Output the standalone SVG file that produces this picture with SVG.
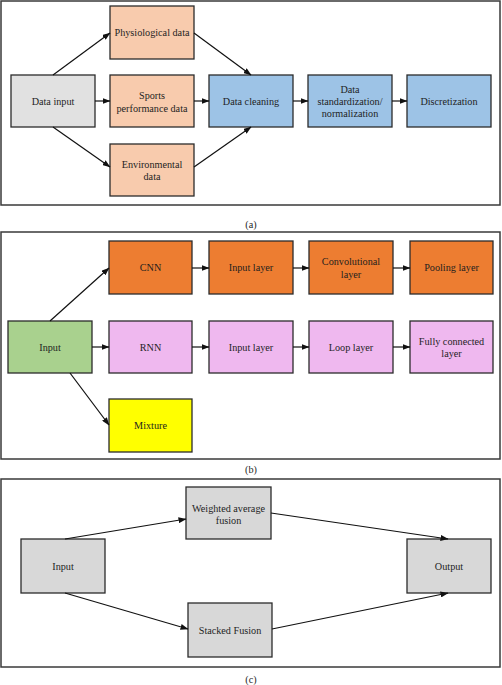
<svg xmlns="http://www.w3.org/2000/svg" width="502" height="685" viewBox="0 0 502 685" font-family="'Liberation Serif', 'Times New Roman', 'DejaVu Serif', serif">
<defs>
<marker id="ah" markerUnits="userSpaceOnUse" markerWidth="8" markerHeight="6" refX="7.5" refY="3" orient="auto">
<path d="M0,0 L8,3 L0,6 z" fill="#111"/>
</marker>
</defs>
<style>
.panel{fill:#fff;stroke:#3a3a3a;stroke-width:1.5}
.box{stroke:#2b2b2b;stroke-width:1.3}
text{font-family:'Liberation Serif','Times New Roman','DejaVu Serif',serif;font-size:10.2px;fill:#1e1e1e;text-anchor:middle;dominant-baseline:central}
.con line{stroke:#111;stroke-width:1.2;marker-end:url(#ah)}
.gray{fill:#e1e1e1}.peach{fill:#f8cbad}.blue{fill:#9dc3e6}
.orange{fill:#ed7d31}.pink{fill:#efb8ef}.green{fill:#a9d18e}.yellow{fill:#ffff00}.grey2{fill:#d8d8d8}
</style>
<rect width="502" height="685" fill="#fff"/>
<!-- Panel a -->
<rect class="panel" x="1" y="1" width="499" height="204"/>
<g id="a-input"><rect class="box gray" x="11" y="75" width="84" height="52"/><text x="53" y="101">Data input</text></g>
<g id="a-phys"><rect class="box peach" x="110" y="6" width="84" height="53"/><text x="152" y="32.5">Physiological data</text></g>
<g id="a-sports"><rect class="box peach" x="110" y="75" width="84" height="52"/><text x="152" y="95">Sports</text><text x="152" y="108">performance data</text></g>
<g id="a-env"><rect class="box peach" x="110" y="144" width="84" height="52"/><text x="152" y="164">Environmental</text><text x="152" y="176">data</text></g>
<g id="a-clean"><rect class="box blue" x="209" y="75" width="84" height="52"/><text x="251" y="101">Data cleaning</text></g>
<g id="a-std"><rect class="box blue" x="308" y="75" width="84" height="52"/><text x="350" y="89">Data</text><text x="350" y="101">standardization/</text><text x="350" y="113">normalization</text></g>
<g id="a-disc"><rect class="box blue" x="407" y="75" width="84" height="52"/><text x="449" y="101">Discretization</text></g>
<text x="251" y="224">(a)</text>
<!-- Panel b -->
<rect class="panel" x="1" y="232" width="499" height="227"/>
<g id="b-input"><rect class="box green" x="8" y="321" width="84" height="52"/><text x="50" y="347">Input</text></g>
<g id="b-cnn"><rect class="box orange" x="109" y="241" width="83" height="53"/><text x="150.5" y="267.5">CNN</text></g>
<g id="b-rnn"><rect class="box pink" x="109" y="321" width="83" height="52"/><text x="150.5" y="347">RNN</text></g>
<g id="b-mix"><rect class="box yellow" x="109" y="399" width="83" height="53"/><text x="150.5" y="425.5">Mixture</text></g>
<g id="b-cin"><rect class="box orange" x="209" y="241" width="84" height="53"/><text x="251" y="267.5">Input layer</text></g>
<g id="b-conv"><rect class="box orange" x="309" y="241" width="84" height="53"/><text x="351" y="261">Convolutional</text><text x="351" y="274">layer</text></g>
<g id="b-pool"><rect class="box orange" x="410" y="241" width="83" height="53"/><text x="451.5" y="267.5">Pooling layer</text></g>
<g id="b-rin"><rect class="box pink" x="209" y="321" width="84" height="52"/><text x="251" y="347">Input layer</text></g>
<g id="b-loop"><rect class="box pink" x="309" y="321" width="84" height="52"/><text x="351" y="347">Loop layer</text></g>
<g id="b-fc"><rect class="box pink" x="410" y="321" width="83" height="52"/><text x="451.5" y="341">Fully connected</text><text x="451.5" y="353">layer</text></g>
<text x="251" y="469">(b)</text>
<!-- Panel c -->
<rect class="panel" x="1" y="479" width="499" height="188"/>
<g id="c-input"><rect class="box grey2" x="21" y="539" width="84" height="54"/><text x="63" y="566">Input</text></g>
<g id="c-wavg"><rect class="box grey2" x="186" y="487" width="85" height="52"/><text x="228.5" y="508">Weighted average</text><text x="228.5" y="520">fusion</text></g>
<g id="c-stack"><rect class="box grey2" x="188" y="603" width="84" height="54"/><text x="230" y="630">Stacked Fusion</text></g>
<g id="c-out"><rect class="box grey2" x="407" y="539" width="84" height="54"/><text x="449" y="566">Output</text></g>
<text x="251" y="679">(c)</text>
<!-- connectors -->
<g id="connectors" class="con">
<line x1="53" y1="75" x2="110" y2="33"/>
<line x1="95" y1="101" x2="110" y2="101"/>
<line x1="53" y1="127" x2="110" y2="167"/>
<line x1="194" y1="33" x2="251" y2="75"/>
<line x1="194" y1="101" x2="209" y2="101"/>
<line x1="194" y1="167" x2="251" y2="127"/>
<line x1="293" y1="101" x2="308" y2="101"/>
<line x1="392" y1="101" x2="407" y2="101"/>
<line x1="50" y1="321" x2="109" y2="268"/>
<line x1="92" y1="347" x2="109" y2="347"/>
<line x1="70" y1="373" x2="109" y2="425"/>
<line x1="192" y1="268" x2="209" y2="268"/>
<line x1="293" y1="268" x2="309" y2="268"/>
<line x1="393" y1="268" x2="410" y2="268"/>
<line x1="192" y1="347" x2="209" y2="347"/>
<line x1="293" y1="347" x2="309" y2="347"/>
<line x1="393" y1="347" x2="410" y2="347"/>
<line x1="65" y1="539" x2="186" y2="519"/>
<line x1="65" y1="593" x2="188" y2="629"/>
<line x1="271" y1="513" x2="448" y2="539"/>
<line x1="272" y1="629" x2="448" y2="593"/>
</g>
</svg>
